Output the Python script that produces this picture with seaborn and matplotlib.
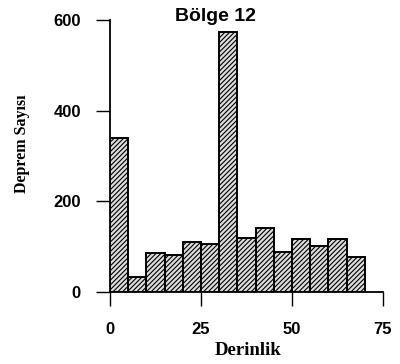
import matplotlib
matplotlib.use("Agg")
import matplotlib.pyplot as plt
import seaborn as sns

# Earthquake counts per 5 km depth bin
bin_edges = [0, 5, 10, 15, 20, 25, 30, 35, 40, 45, 50, 55, 60, 65, 70]
counts = [340, 33, 86, 81, 110, 105, 574, 120, 141, 88, 116, 102, 116, 77]
x_ticks = [0, 25, 50, 75]
y_ticks = [0, 200, 400, 600]

bin_mids = [(a + b) / 2 for a, b in zip(bin_edges[:-1], bin_edges[1:])]

sns.set_style("ticks")
plt.rcParams["hatch.linewidth"] = 0.8
plt.rcParams["hatch.color"] = "#1a1a1a"

fig = plt.figure(figsize=(4.0, 3.64), dpi=100)
ax = fig.add_axes([0.275, 0.198, 0.6825, 0.747])

sns.histplot(x=bin_mids, weights=counts, bins=bin_edges, ax=ax,
             color="#dcdcdc", alpha=1.0, edgecolor="black", linewidth=1.4,
             hatch="///////")

ax.set_xlim(0, 75)
ax.set_ylim(0, 600)
ax.set_xticks(x_ticks)
ax.set_yticks(y_ticks)
sns.despine(ax=ax, top=True, right=True)
for s in ("left", "bottom"):
    ax.spines[s].set_linewidth(1.3)
    ax.spines[s].set_color("black")
ax.tick_params(axis="both", direction="out", length=10, width=1.0,
               color="black", labelsize=12, labelcolor="black")
ax.tick_params(axis="y", pad=11)
ax.tick_params(axis="x", pad=12)
for lbl in ax.get_xticklabels() + ax.get_yticklabels():
    lbl.set_fontfamily("Liberation Sans")
    lbl.set_fontweight("bold")

ax.set_xlabel("Derinlik", family="Liberation Serif", fontsize=13.5,
              fontweight="bold", color="black")
ax.set_ylabel("Deprem Sayısı", family="Liberation Serif", fontsize=11.5,
              fontweight="bold", color="black")
ax.xaxis.set_label_coords(0.505, -0.185)
ax.yaxis.set_label_coords(-0.293, 0.544)
ax.text(0.385, 0.995, "Bölge 12", transform=ax.transAxes, ha="center",
        va="baseline", family="Liberation Sans", fontweight="bold",
        fontsize=14, color="black")

fig.savefig("out.png", dpi=100)
